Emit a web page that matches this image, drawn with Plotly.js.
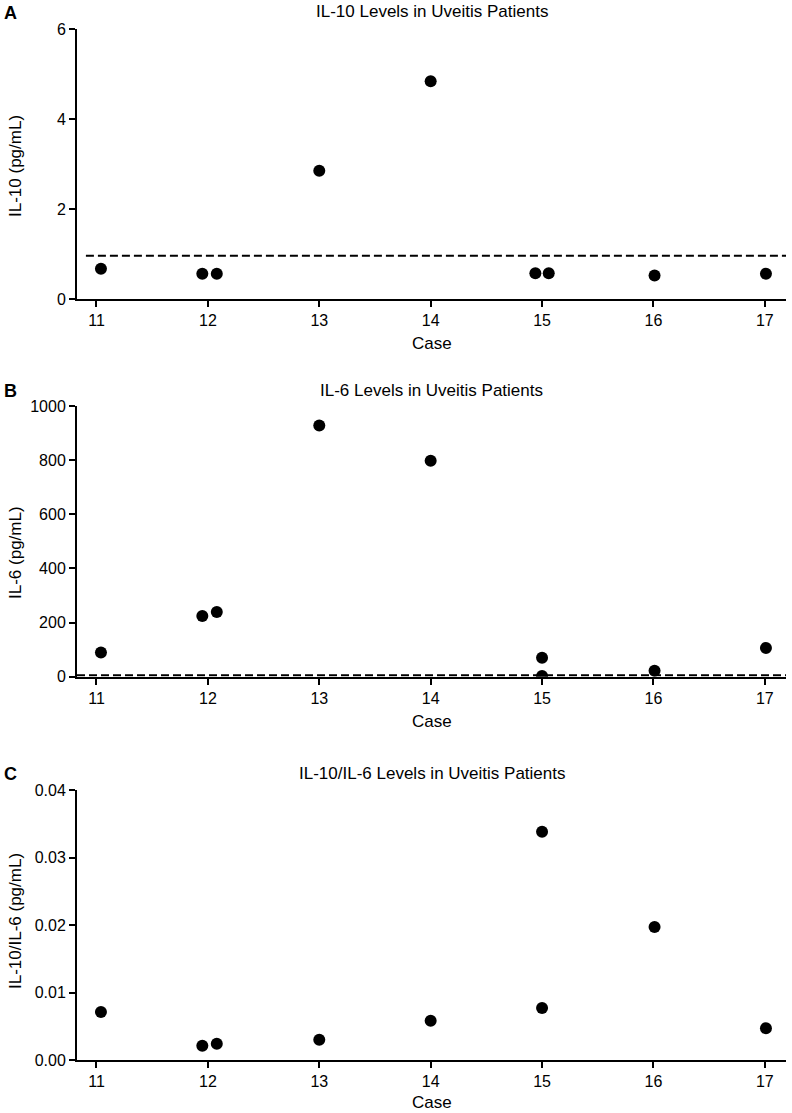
<!DOCTYPE html>
<html>
<head>
<meta charset="utf-8">
<script src="https://cdn.plot.ly/plotly-3.0.1.min.js"></script>
<style>html,body{margin:0;padding:0;background:#fff;}#chart{width:792px;height:1113px;}</style>
</head>
<body>
<div id="chart"></div>
<script>
// Panel A: IL-10
const il10X = [11.04, 11.95, 12.08, 13.0, 14.0, 14.94, 15.06, 16.01, 17.01];
const il10Y = [0.67, 0.56, 0.56, 2.85, 4.84, 0.57, 0.57, 0.52, 0.56];
const il10Cutoff = 0.96;
// Panel B: IL-6
const il6X = [11.04, 11.95, 12.08, 13.0, 14.0, 15.0, 15.0, 16.01, 17.01];
const il6Y = [89, 224, 239, 928, 798, 70, 3, 22, 106];
const il6Cutoff = 5;
// Panel C: IL-10/IL-6
const ratioX = [11.04, 11.95, 12.08, 13.0, 14.0, 15.0, 15.0, 16.01, 17.01];
const ratioY = [0.0071, 0.0021, 0.0024, 0.0030, 0.0058, 0.0338, 0.0077, 0.0197, 0.0047];

const caseTicks = [11, 12, 13, 14, 15, 16, 17];
const titles = ["IL-10 Levels in Uveitis Patients", "IL-6 Levels in Uveitis Patients", "IL-10/IL-6 Levels in Uveitis Patients"];
const xTitle = "Case";
const yTitles = ["IL-10 (pg/mL)", "IL-6 (pg/mL)", "IL-10/IL-6 (pg/mL)"];
const panelLetters = ["A", "B", "C"];

const FONT = "Liberation Sans, Arial, sans-serif";
const H = 1113, W = 792;
const py = v => (H - v) / H;

const marker = {color: "#000", size: 12};
const traces = [
  {x: il10X, y: il10Y, type: "scatter", mode: "markers", marker: marker, xaxis: "x", yaxis: "y"},
  {x: il6X, y: il6Y, type: "scatter", mode: "markers", marker: marker, xaxis: "x2", yaxis: "y2"},
  {x: ratioX, y: ratioY, type: "scatter", mode: "markers", marker: marker, xaxis: "x3", yaxis: "y3"}
];

const xDom = [77 / W, 786 / W];
const xRange = [10.825, 17.19];
function xAxis(anchor) {
  return {
    domain: xDom, range: xRange, anchor: anchor,
    tickvals: caseTicks, ticktext: caseTicks.map(String),
    showline: true, linecolor: "#000", linewidth: 2,
    ticks: "outside", ticklen: 6, tickwidth: 2, tickcolor: "#000",
    showgrid: false, zeroline: false,
    tickfont: {family: FONT, size: 16, color: "#000"},
    automargin: false, fixedrange: true
  };
}
function yAxis(anchor, dom, range, tickvals, fmt) {
  return {
    domain: dom, range: range, anchor: anchor,
    tickvals: tickvals, tickformat: fmt,
    showline: true, linecolor: "#000", linewidth: 2,
    ticks: "outside", ticklen: 6, tickwidth: 2, tickcolor: "#000",
    showgrid: false, zeroline: false,
    tickfont: {family: FONT, size: 16, color: "#000"},
    automargin: false, fixedrange: true
  };
}

// pixel positions of the three panels (top, bottom)
const panels = [[29, 299], [406, 676.7], [790, 1060]];
const titleY = [12, 390, 773];
const caseY = [343, 721, 1102];
const yTitleY = [166, 553, 921];

const annotations = [];
for (let i = 0; i < 3; i++) {
  annotations.push({text: titles[i], xref: "paper", yref: "paper", x: 431.5 / W, y: py(titleY[i]),
    xanchor: "center", yanchor: "middle", showarrow: false, font: {family: FONT, size: 17, color: "#000"}});
  annotations.push({text: "<b>" + panelLetters[i] + "</b>", xref: "paper", yref: "paper", x: 2 / W, y: py(titleY[i] + 1),
    xanchor: "left", yanchor: "middle", showarrow: false, font: {family: FONT, size: 18, color: "#000"}});
  annotations.push({text: xTitle, xref: "paper", yref: "paper", x: 431.5 / W, y: py(caseY[i]),
    xanchor: "center", yanchor: "middle", showarrow: false, font: {family: FONT, size: 17, color: "#000"}});
  annotations.push({text: yTitles[i], xref: "paper", yref: "paper", x: 15 / W, y: py(yTitleY[i]), textangle: -90,
    xanchor: "center", yanchor: "middle", showarrow: false, font: {family: FONT, size: 17, color: "#000"}});
}

const layout = {
  width: W, height: H,
  margin: {l: 0, r: 0, t: 0, b: 0},
  paper_bgcolor: "#fff", plot_bgcolor: "#fff",
  showlegend: false,
  xaxis: xAxis("y"),
  xaxis2: xAxis("y2"),
  xaxis3: xAxis("y3"),
  yaxis: yAxis("x", [py(panels[0][1]), py(panels[0][0])], [0, 6], [0, 2, 4, 6], "d"),
  yaxis2: yAxis("x2", [py(panels[1][1]), py(panels[1][0])], [0, 1000], [0, 200, 400, 600, 800, 1000], "d"),
  yaxis3: yAxis("x3", [py(panels[2][1]), py(panels[2][0])], [0, 0.04], [0, 0.01, 0.02, 0.03, 0.04], ".2f"),
  shapes: [
    {type: "line", xref: "x", yref: "y", x0: 10.905, x1: 17.19, y0: il10Cutoff, y1: il10Cutoff,
     line: {color: "#000", width: 2, dash: "8px,4px"}},
    {type: "line", xref: "x2", yref: "y2", x0: 10.825, x1: 17.19, y0: il6Cutoff, y1: il6Cutoff,
     line: {color: "#000", width: 2, dash: "8px,4px"}}
  ],
  annotations: annotations
};

Plotly.newPlot("chart", traces, layout, {displayModeBar: false, staticPlot: true});
</script>
</body>
</html>
